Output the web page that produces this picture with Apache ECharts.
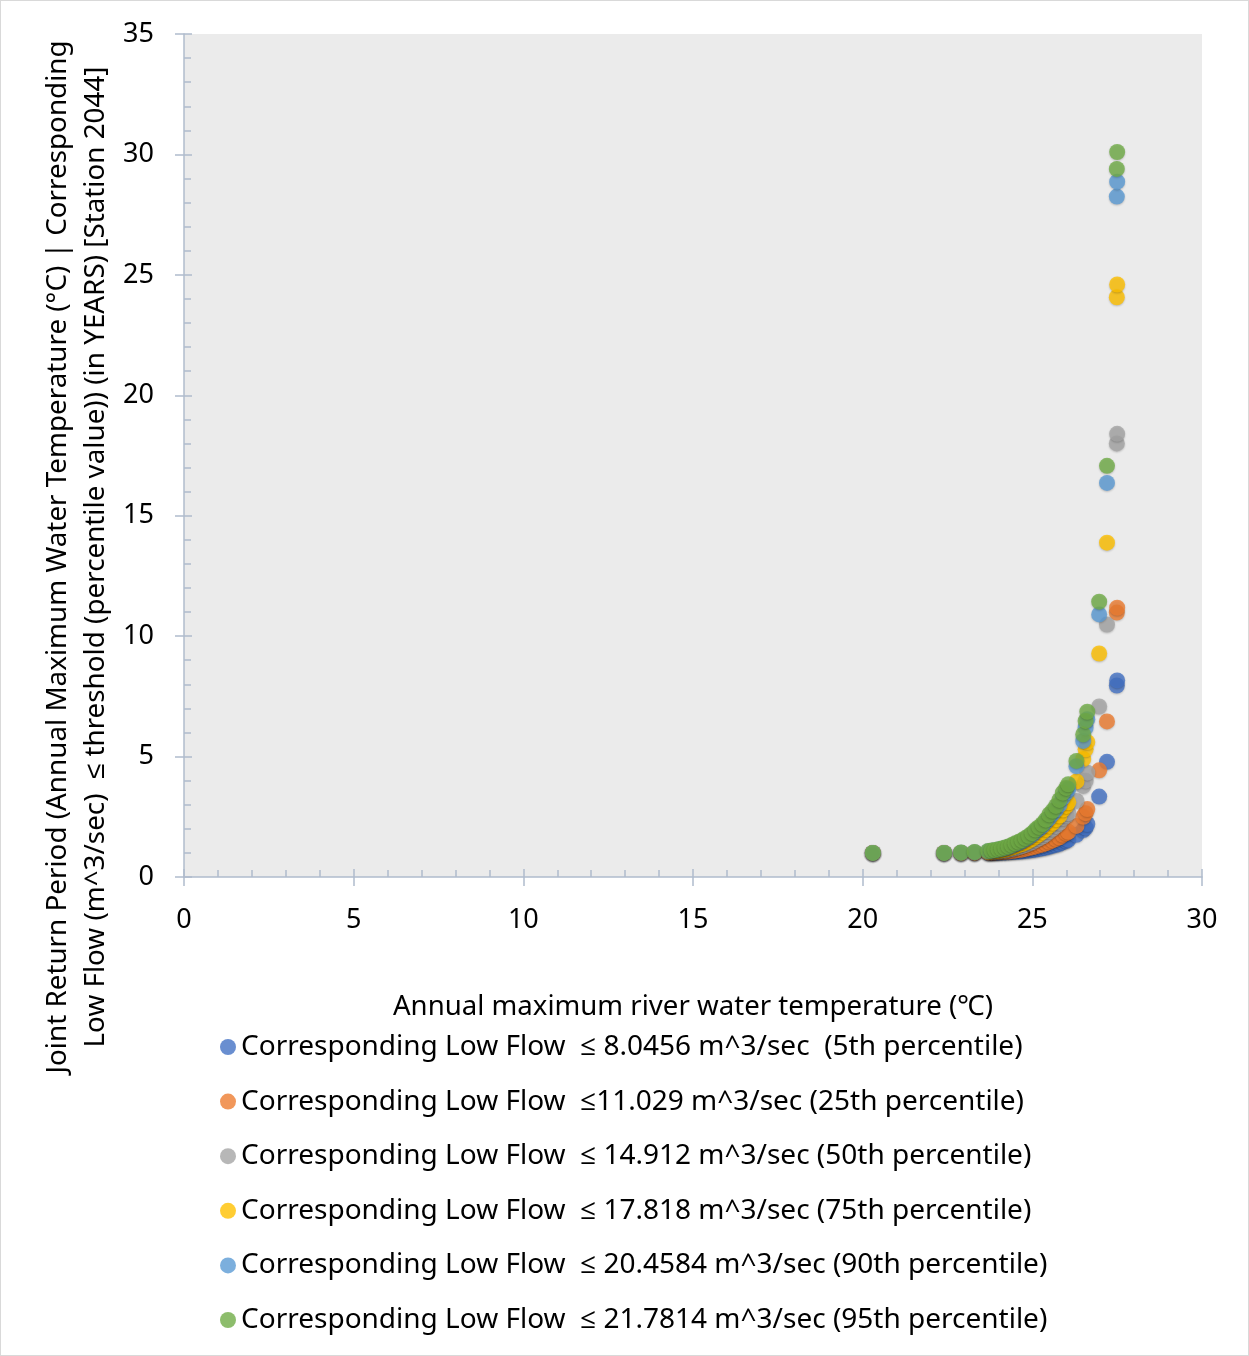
<!DOCTYPE html>
<html>
<head>
<meta charset="utf-8">
<script src="https://cdn.jsdelivr.net/npm/echarts@6/dist/echarts.min.js"></script>
<style>
  html, body { margin: 0; padding: 0; background: #fff; }
  #chart { width: 1247px; height: 1354px; border: 1px solid #d9d9d9; }
</style>
</head>
<body>
<div id="chart"></div>
<script>
// annual maximum river water temperature (°C), shared by every series
const TEMP = [20.3, 22.4, 22.9, 23.3, 23.7, 23.8, 23.9, 24.0, 24.1, 24.2, 24.3, 24.4, 24.5, 24.6, 24.7,
  24.8, 24.9, 25.0, 25.1, 25.2, 25.3, 25.4, 25.5, 25.6, 25.7, 25.8, 25.9, 26.0, 26.06, 26.3, 26.5,
  26.57, 26.62, 26.97, 27.2, 27.49, 27.5]

// joint return periods (years) per low-flow threshold
const RP_P5 = [1.0, 1.0, 1.0, 1.0, 1.0, 1.0, 1.01, 1.01, 1.02, 1.02, 1.03, 1.04, 1.05, 1.06, 1.07,
  1.09, 1.1, 1.12, 1.14, 1.17, 1.19, 1.22, 1.26, 1.3, 1.34, 1.38, 1.45, 1.5, 1.55, 1.75, 1.95,
  2.05, 2.2, 3.34, 4.78, 7.95, 8.16]
const RP_P25 = [1.0, 1.0, 1.0, 1.0, 1.01, 1.01, 1.02, 1.03, 1.04, 1.05, 1.06, 1.08, 1.1, 1.12, 1.14,
  1.17, 1.2, 1.23, 1.27, 1.31, 1.35, 1.4, 1.46, 1.52, 1.58, 1.65, 1.75, 1.82, 1.88, 2.12, 2.5,
  2.65, 2.82, 4.43, 6.46, 10.98, 11.18]
const RP_P50 = [1.0, 1.0, 1.0, 1.01, 1.02, 1.03, 1.04, 1.06, 1.08, 1.1, 1.13, 1.16, 1.2, 1.24, 1.28,
  1.33, 1.39, 1.45, 1.53, 1.6, 1.68, 1.78, 1.9, 2.0, 2.12, 2.25, 2.45, 2.55, 2.65, 3.16, 3.78,
  4.0, 4.33, 7.08, 10.48, 18.0, 18.4]
const RP_P75 = [1.0, 1.0, 1.0, 1.02, 1.04, 1.05, 1.07, 1.09, 1.11, 1.14, 1.18, 1.22, 1.27, 1.32, 1.37,
  1.43, 1.5, 1.58, 1.68, 1.77, 1.87, 1.99, 2.13, 2.25, 2.4, 2.55, 2.8, 2.95, 3.1, 3.97, 4.9,
  5.3, 5.6, 9.28, 13.88, 24.07, 24.6]
const RP_P90 = [1.0, 1.0, 1.01, 1.03, 1.07, 1.09, 1.11, 1.14, 1.17, 1.2, 1.25, 1.3, 1.37, 1.42, 1.49,
  1.57, 1.66, 1.76, 1.9, 2.0, 2.12, 2.3, 2.45, 2.62, 2.8, 3.0, 3.3, 3.5, 3.65, 4.6, 5.65,
  6.2, 6.55, 10.9, 16.36, 28.25, 28.87]
const RP_P95 = [1.0, 1.0, 1.02, 1.04, 1.08, 1.1, 1.12, 1.15, 1.18, 1.22, 1.27, 1.33, 1.4, 1.46, 1.53,
  1.62, 1.71, 1.82, 1.97, 2.08, 2.2, 2.38, 2.6, 2.75, 2.95, 3.2, 3.5, 3.7, 3.85, 4.82, 5.92,
  6.48, 6.86, 11.43, 17.07, 29.4, 30.1]

const SERIES_NAMES = [
  'Corresponding Low Flow  \u2264 8.0456 m^3/sec  (5th percentile)',
  'Corresponding Low Flow  \u226411.029 m^3/sec (25th percentile)',
  'Corresponding Low Flow  \u2264 14.912 m^3/sec (50th percentile)',
  'Corresponding Low Flow  \u2264 17.818 m^3/sec (75th percentile)',
  'Corresponding Low Flow  \u2264 20.4584 m^3/sec (90th percentile)',
  'Corresponding Low Flow  \u2264 21.7814 m^3/sec (95th percentile)',
]
const SERIES_VALUES = [RP_P5, RP_P25, RP_P50, RP_P75, RP_P90, RP_P95]
const COLORS = ['#4472c4', '#ed7d31', '#a5a5a5', '#ffc000', '#5b9bd5', '#70ad47']

const FONT = "'Noto Sans', 'Open Sans', sans-serif"
const AXIS_COLOR = '#b0bccd'
const TEXT_COLOR = '#000'

const chart = echarts.init(document.getElementById('chart'))

// second axis only for the outward half of the major ticks
const tickAxis = (extra) => ({
  type: 'value',
  axisLine: { show: false },
  axisLabel: { show: false },
  splitLine: { show: false },
  axisTick: { show: true, inside: false, length: 9, lineStyle: { color: AXIS_COLOR, width: 1.5 } },
  ...extra,
})

chart.setOption({
  animation: false,
  textStyle: { fontFamily: FONT },
  color: COLORS,
  grid: {
    left: 183, right: 46, top: 33, bottom: 478,
    show: true, backgroundColor: '#ebebeb', borderWidth: 0,
  },
  legend: {
    orient: 'vertical',
    left: 214,
    top: 1022,
    itemGap: 16.6,
    icon: 'circle',
    itemWidth: 16,
    itemHeight: 16,
    textStyle: { fontFamily: FONT, fontSize: 28, color: TEXT_COLOR, lineHeight: 38 },
    data: SERIES_NAMES,
  },
  xAxis: [
    {
      type: 'value', min: 0, max: 30, interval: 5,
      name: 'Annual maximum river water temperature (\u2103)',
      nameLocation: 'middle', nameGap: 116,
      nameTextStyle: { fontFamily: FONT, fontSize: 27.6, color: TEXT_COLOR },
      axisLine: { show: true, lineStyle: { color: AXIS_COLOR, width: 1.5 } },
      axisTick: { show: true, inside: true, length: 8, lineStyle: { color: AXIS_COLOR, width: 1.5 } },
      minorTick: { show: true, splitNumber: 5, length: 7, lineStyle: { color: AXIS_COLOR, width: 1.5 } },
      axisLabel: { fontSize: 27, color: TEXT_COLOR, margin: 30 },
      splitLine: { show: false },
    },
    tickAxis({ min: 0, max: 30, interval: 5, position: 'bottom' }),
  ],
  yAxis: [
    {
      type: 'value', min: 0, max: 35, interval: 5,
      axisLine: { show: true, lineStyle: { color: AXIS_COLOR, width: 1.5 } },
      axisTick: { show: true, inside: true, length: 8, lineStyle: { color: AXIS_COLOR, width: 1.5 } },
      minorTick: { show: true, splitNumber: 5, length: 7, lineStyle: { color: AXIS_COLOR, width: 1.5 } },
      axisLabel: { fontSize: 27, color: TEXT_COLOR, margin: 30 },
      splitLine: { show: false },
    },
    tickAxis({ min: 0, max: 35, interval: 5, position: 'left' }),
  ],
  graphic: [{
    type: 'text',
    x: 76,
    y: 556,
    rotation: Math.PI / 2,
    style: {
      text: 'Joint Return Period (Annual Maximum Water Temperature (\u00b0C) | Corresponding\n'
        + 'Low Flow (m^3/sec)  \u2264 threshold (percentile value)) (in YEARS) [Station 2044]',
      font: "27.8px 'Noto Sans', sans-serif",
      lineHeight: 38,
      fill: TEXT_COLOR,
      align: 'center',
      verticalAlign: 'middle',
    },
  }],
  series: SERIES_NAMES.map((name, i) => ({
    name,
    type: 'scatter',
    symbolSize: 16,
    data: TEMP.map((t, j) => [t, SERIES_VALUES[i][j]]),
    itemStyle: {
      color: COLORS[i],
      shadowBlur: 2,
      shadowColor: 'rgba(0,0,0,0.25)',
      shadowOffsetY: 1,
    },
  })),
})
</script>
</body>
</html>
